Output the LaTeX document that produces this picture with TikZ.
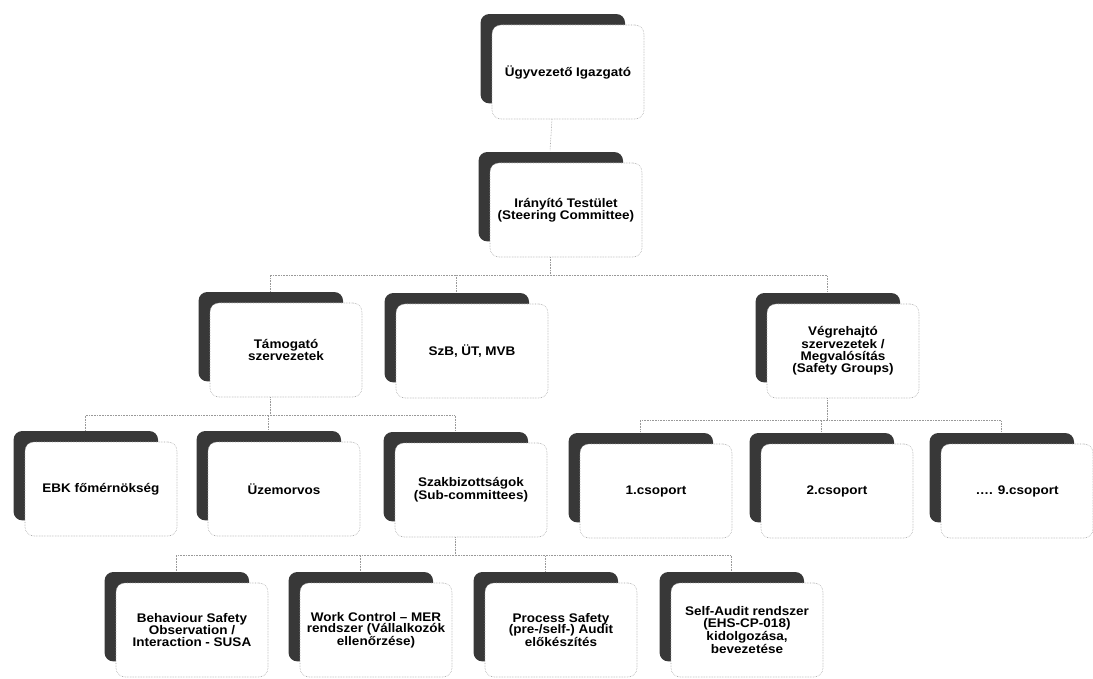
\documentclass[tikz,border=0pt]{standalone}
\usepackage{fontspec}
\newfontfamily\boxfont{Liberation Sans}[FakeStretch=1.08]
\usetikzlibrary{shadows}
\tikzset{
  box/.style={draw=black!35, densely dotted, line width=0.6pt, rounded corners=9pt,
    fill=white, minimum width=152pt, minimum height=94pt, align=center, inner sep=2pt,
    font=\boxfont\bfseries\fontsize{12.5}{11.7}\selectfont,
    general shadow={fill=black!78, shadow scale=0.95, shadow xshift=-16pt, shadow yshift=14pt}},
  conn/.style={draw=black!40, densely dotted, line width=0.6pt},
}
\begin{document}
\begin{tikzpicture}[x=1pt, y=-1pt]
\useasboundingbox (0,0) rectangle (1093,679);
% level 0 and 1
\node[box] (top)   at (568,72)  {Ügyvezető Igazgató};
\node[box] (steer) at (566,210) {Irányító Testület\\(Steering Committee)};
% level 2
\node[box] (tam) at (286,350) {Támogató\\szervezetek};
\node[box] (szb) at (472,351) {SzB, ÜT, MVB};
\node[box] (veg) at (843,351) {Végrehajtó\\szervezetek /\\Megvalósítás\\(Safety Groups)};
% level 3
\node[box] (ebk)  at (101,489) {EBK főmérnökség};
\node[box] (uzem) at (284,489) {Üzemorvos};
\node[box] (szak) at (471,490) {Szakbizottságok\\(Sub-committees)};
\node[box] (cs1)  at (656,491) {1.csoport};
\node[box] (cs2)  at (837,491) {2.csoport};
\node[box] (cs9)  at (1017,491) {…. 9.csoport};
% level 4
\node[box] (beh)  at (192,630) {Behaviour Safety\\Observation /\\Interaction - SUSA};
\node[box] (work) at (376,630) {Work Control – MER\\rendszer (Vállalkozók\\ellenőrzése)};
\node[box] (proc) at (561,630) {Process Safety\\(pre-/self-) Audit\\előkészítés};
\node[box] (self) at (747,630) {Self-Audit rendszer\\(EHS-CP-018)\\kidolgozása,\\bevezetése};
% connectors
\draw[conn] ([xshift=-16pt]top.south) -- ([shift={(-16pt,11.6pt)}]steer.north);
\foreach \c in {tam,szb,veg}
  \draw[conn] ([xshift=-16pt]steer.south) -- ++(0,18) -| ([shift={(-16pt,11.6pt)}]\c.north);
\foreach \c in {ebk,uzem,szak}
  \draw[conn] ([xshift=-16pt]tam.south) -- ++(0,18) -| ([shift={(-16pt,11.6pt)}]\c.north);
\foreach \c in {cs1,cs2,cs9}
  \draw[conn] ([xshift=-16pt]veg.south) -- ++(0,22) -| ([shift={(-16pt,11.6pt)}]\c.north);
\foreach \c in {beh,work,proc,self}
  \draw[conn] ([xshift=-16pt]szak.south) -- ++(0,18) -| ([shift={(-16pt,11.6pt)}]\c.north);
\end{tikzpicture}
\end{document}
